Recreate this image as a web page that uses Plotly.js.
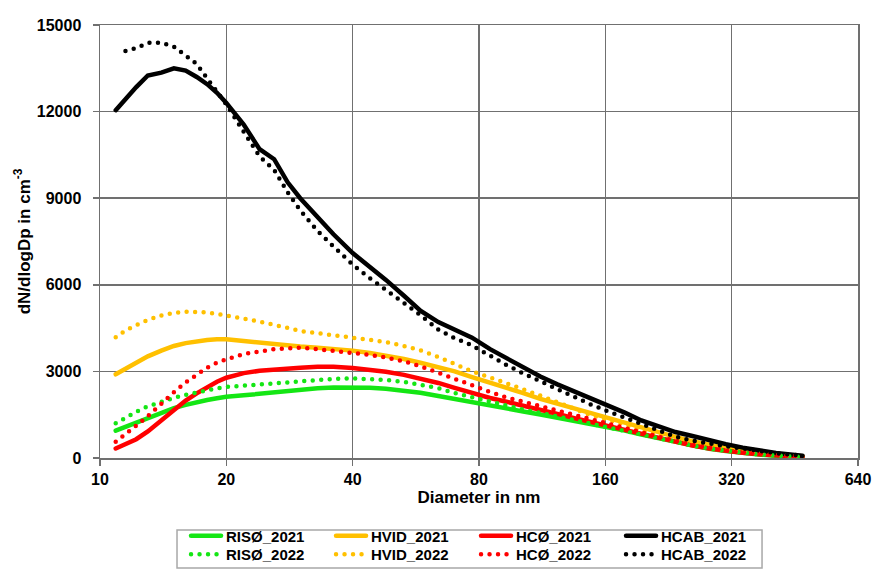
<!DOCTYPE html>
<html>
<head>
<meta charset="utf-8">
<script src="https://cdn.plot.ly/plotly-3.0.1.min.js"></script>
<style>
html, body { margin: 0; padding: 0; background: #fff; }
#chart { width: 872px; height: 572px; }
.scatterlayer path.js-line, .legendlines path { stroke-linecap: round; }
</style>
</head>
<body>
<div id="chart"></div>
<script>
// Particle diameter (nm)
const diameters = [10.9, 11.5, 12.2, 13, 14, 15, 16, 17, 18, 19, 20, 22, 24, 26, 28, 30, 33, 36, 40, 44, 48, 53, 58, 64, 70, 77, 85, 93, 102, 112, 123, 135, 148, 162, 178, 195, 214, 235, 258, 283, 310, 340, 372, 408, 447, 472];

// dN/dlogDp (cm^-3)
const riso2021 = [950, 1080, 1220, 1390, 1580, 1730, 1840, 1940, 2010, 2070, 2120, 2170, 2220, 2270, 2320, 2380, 2420, 2440, 2450, 2430, 2400, 2340, 2260, 2150, 2040, 1920, 1800, 1700, 1610, 1510, 1400, 1290, 1170, 1060, 950, 810, 680, 540, 420, 320, 240, 170, 120, 80, 50, 30];
const hvid2021 = [2900, 3100, 3300, 3520, 3720, 3880, 3980, 4050, 4090, 4110, 4110, 4050, 3990, 3950, 3910, 3860, 3820, 3780, 3720, 3640, 3550, 3430, 3300, 3150, 3000, 2800, 2620, 2420, 2250, 2050, 1880, 1700, 1540, 1390, 1230, 1060, 900, 730, 580, 450, 350, 260, 190, 130, 80, 60];
const hco2021 = [330, 470, 650, 920, 1300, 1680, 1990, 2240, 2460, 2640, 2780, 2940, 3020, 3070, 3100, 3130, 3160, 3160, 3120, 3060, 2990, 2880, 2760, 2600, 2430, 2250, 2080, 1950, 1820, 1680, 1530, 1380, 1240, 1110, 980, 840, 700, 560, 430, 330, 250, 180, 130, 90, 60, 40];
const hcab2021 = [12050, 12450, 12850, 13250, 13350, 13500, 13420, 13200, 12950, 12650, 12300, 11550, 10700, 10350, 9550, 9000, 8320, 7750, 7100, 6630, 6170, 5620, 5100, 4710, 4440, 4170, 3770, 3450, 3160, 2820, 2550, 2300, 2080, 1850, 1570, 1300, 1120, 900, 760, 600, 480, 360, 260, 170, 110, 80];

const riso2022 = [1200, 1400, 1600, 1790, 1960, 2080, 2190, 2280, 2350, 2410, 2460, 2510, 2560, 2600, 2630, 2670, 2710, 2740, 2760, 2740, 2700, 2640, 2550, 2420, 2250, 2100, 1950, 1800, 1680, 1560, 1440, 1320, 1200, 1080, 960, 820, 690, 550, 430, 330, 250, 180, 125, 85, 55, 35];
const hvid2022 = [4180, 4420, 4600, 4780, 4940, 5030, 5070, 5060, 5040, 4990, 4940, 4830, 4720, 4620, 4510, 4400, 4320, 4250, 4170, 4100, 4020, 3880, 3730, 3500, 3250, 3000, 2790, 2600, 2380, 2160, 1930, 1680, 1480, 1330, 1170, 960, 790, 640, 500, 380, 290, 220, 160, 110, 70, 50];
const hco2022 = [560, 850, 1120, 1450, 1900, 2280, 2620, 2900, 3130, 3300, 3420, 3600, 3700, 3770, 3800, 3820, 3770, 3720, 3650, 3570, 3480, 3350, 3180, 2950, 2720, 2480, 2290, 2100, 1950, 1800, 1620, 1480, 1320, 1180, 1030, 880, 740, 590, 460, 350, 260, 190, 140, 95, 60, 40];
const hcab2022 = [null, 14100, 14200, 14380, 14390, 14250, 13950, 13650, 13150, 12700, 12250, 11300, 10450, 9980, 9200, 8580, 7860, 7330, 6700, 6225, 5830, 5400, 4950, 4450, 4150, 3900, 3530, 3220, 2930, 2650, 2370, 2100, 1850, 1620, 1400, 1150, 950, 740, 600, 490, 410, 330, 240, 170, 110, 80];

const xTicks = [10, 20, 40, 80, 160, 320, 640];
const yTicks = [0, 3000, 6000, 9000, 12000, 15000];

const names2021 = ['RISØ_2021', 'HVID_2021', 'HCØ_2021', 'HCAB_2021'];
const names2022 = ['RISØ_2022', 'HVID_2022', 'HCØ_2022', 'HCAB_2022'];
const colors = ['#14e614', '#ffc000', '#ff0000', '#000000'];
const series2021 = [riso2021, hvid2021, hco2021, hcab2021];
const series2022 = [riso2022, hvid2022, hco2022, hcab2022];

const traces = [];
series2021.forEach((ys, i) => traces.push({
  x: diameters, y: ys, name: names2021[i], type: 'scatter', mode: 'lines',
  line: {color: colors[i], width: 4.5}, legend: 'legend'
}));
series2022.forEach((ys, i) => traces.push({
  x: diameters, y: ys, name: names2022[i], type: 'scatter', mode: 'lines',
  line: {color: colors[i], width: 4.5, dash: '0px,8.5px'}, legend: 'legend2'
}));

const FAM = 'Arial, "Liberation Sans", sans-serif';
const legendFont = {family: FAM, size: 15, weight: 'bold', color: '#000'};

const layout = {
  width: 872, height: 572,
  margin: {l: 100, r: 14, t: 25, b: 114},
  paper_bgcolor: '#fff', plot_bgcolor: '#fff',
  showlegend: true,
  font: {family: FAM, color: '#000'},
  xaxis: {
    type: 'log', range: [1, Math.log10(640)],
    tickvals: xTicks, ticktext: xTicks.map(String),
    showgrid: true, gridcolor: '#707070', gridwidth: 1.5,
    showline: true, linecolor: '#707070', linewidth: 1.5, mirror: true,
    ticks: 'outside', ticklen: 6, tickcolor: '#707070', tickwidth: 1.5,
    tickfont: {family: FAM, size: 16, weight: 'bold', color: '#000'},
    zeroline: false, automargin: false,
    title: {text: 'Diameter in nm', font: {family: FAM, size: 17, weight: 'bold', color: '#000'}, standoff: 2}
  },
  yaxis: {
    range: [0, 15000], tickvals: yTicks, ticktext: yTicks.map(String),
    showgrid: true, gridcolor: '#707070', gridwidth: 1.5,
    showline: true, linecolor: '#707070', linewidth: 1.5, mirror: true,
    ticks: 'outside', ticklen: 6, tickcolor: '#707070', tickwidth: 1.5,
    tickfont: {family: FAM, size: 16, weight: 'bold', color: '#000'}, ticklabelstandoff: 8,
    zeroline: false, automargin: false,
    title: {text: 'dN/dlogDp in cm<sup>-3</sup>', font: {family: FAM, size: 17, weight: 'bold', color: '#000'}, standoff: 2}
  },
  legend: {
    orientation: 'h', x: 0.1135, xanchor: 'left', yref: 'container', y: 0.0918, yanchor: 'top',
    entrywidth: 100, entrywidthmode: 'pixels', font: legendFont,
    bgcolor: 'rgba(0,0,0,0)'
  },
  legend2: {
    orientation: 'h', x: 0.1135, xanchor: 'left', yref: 'container', y: 0.0594, yanchor: 'top',
    entrywidth: 100, entrywidthmode: 'pixels', font: legendFont,
    bgcolor: 'rgba(0,0,0,0)'
  },
  shapes: [{
    type: 'rect', xref: 'paper', yref: 'paper',
    x0: 0.1016, x1: 0.8734, y0: -0.166, y1: -0.254,
    line: {color: '#a8a8a8', width: 1.5}, fillcolor: 'rgba(0,0,0,0)'
  }]
};

Plotly.newPlot('chart', traces, layout, {displayModeBar: false, staticPlot: true});
</script>
</body>
</html>
